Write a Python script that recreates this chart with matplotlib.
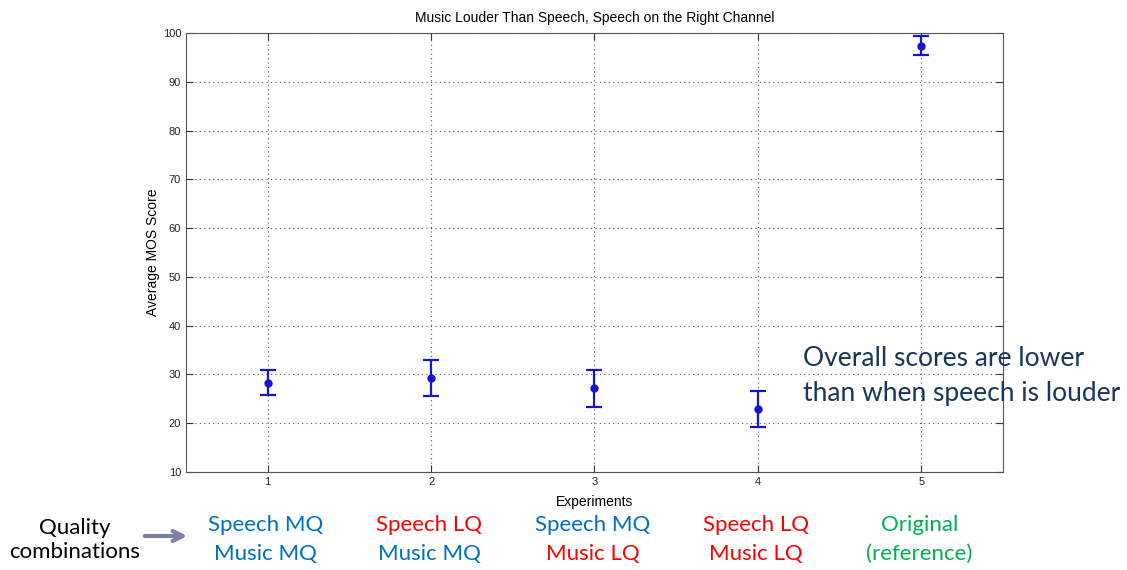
import numpy as np
import matplotlib
matplotlib.use('Agg')
import matplotlib.pyplot as plt

# valori
esperimenti = [1, 2, 3, 4, 5]
media_mos = [28.3, 29.3, 27.2, 22.9, 97.4]
err_basso = [25.8, 25.6, 23.3, 19.2, 95.6]
err_alto = [30.9, 33.0, 30.9, 26.6, 99.4]

righe_speech = ['Speech MQ', 'Speech LQ', 'Speech MQ', 'Speech LQ', 'Original']
righe_music = ['Music MQ', 'Music MQ', 'Music LQ', 'Music LQ', '(reference)']
colori_speech = ['#0070C0', '#FF0000', '#0070C0', '#FF0000', '#00B050']
colori_music = ['#0070C0', '#0070C0', '#FF0000', '#FF0000', '#00B050']

plt.rcParams['font.family'] = ['Liberation Sans', 'DejaVu Sans']

fig = plt.figure(figsize=(11.27, 5.70), dpi=100)
ax = fig.add_axes([0.165, 0.172, 0.725, 0.770])

media = np.array(media_mos)
yerr = [media - np.array(err_basso), np.array(err_alto) - media]
ax.errorbar(esperimenti, media, yerr=yerr, fmt='o', color='#1414D2',
            markersize=5, elinewidth=1.6, capsize=5.5, capthick=1.6)

ax.set_xlim(0.5, 5.5)
ax.set_ylim(10, 100)
ax.set_xticks(esperimenti)
ax.set_yticks(range(10, 101, 10))
ax.grid(True, linestyle=(0, (1, 3)), color='#555555', linewidth=0.8)
ax.tick_params(direction='in', top=True, right=True, labelsize=8, length=5,
               colors='#333333', labelcolor='#222222')
for s in ax.spines.values():
    s.set_color('#555555')

ax.set_title('Music Louder Than Speech, Speech on the Right Channel', fontsize=10, pad=8)
ax.set_xlabel('Experiments', fontsize=10, labelpad=6)
ax.set_ylabel('Average MOS Score', fontsize=10, labelpad=2)

# testo di commento
fig.text(803 / 1127, 1 - 376 / 570, 'Overall scores are lower\nthan when speech is louder',
         fontsize=19, color='#17365D', family=['Lato', 'DejaVu Sans'],
         va='center', ha='left', linespacing=1.5, zorder=10)

# etichette delle combinazioni sotto l'asse x
for i, x in enumerate(esperimenti):
    xf = ax.transData.transform((x, 10))[0] / fig.bbox.width
    fig.text(xf - 2 / 1127, 1 - 525 / 570, righe_speech[i], color=colori_speech[i],
             fontsize=16, family=['Lato', 'DejaVu Sans'], ha='center', va='center')
    fig.text(xf - 2 / 1127, 1 - 554 / 570, righe_music[i], color=colori_music[i],
             fontsize=16, family=['Lato', 'DejaVu Sans'], ha='center', va='center')

fig.text(75 / 1127, 1 - 540 / 570, 'Quality\ncombinations', color='black',
         fontsize=16, family=['Lato', 'DejaVu Sans'], ha='center', va='center',
         linespacing=1.3)
fig.add_artist(matplotlib.patches.FancyArrowPatch(
    (142 / 1127, 1 - 536 / 570), (190 / 1127, 1 - 536 / 570),
    transform=fig.transFigure, arrowstyle='->', mutation_scale=18,
    color='#7F7FA8', linewidth=3))

fig.savefig('out.png', dpi=100)
